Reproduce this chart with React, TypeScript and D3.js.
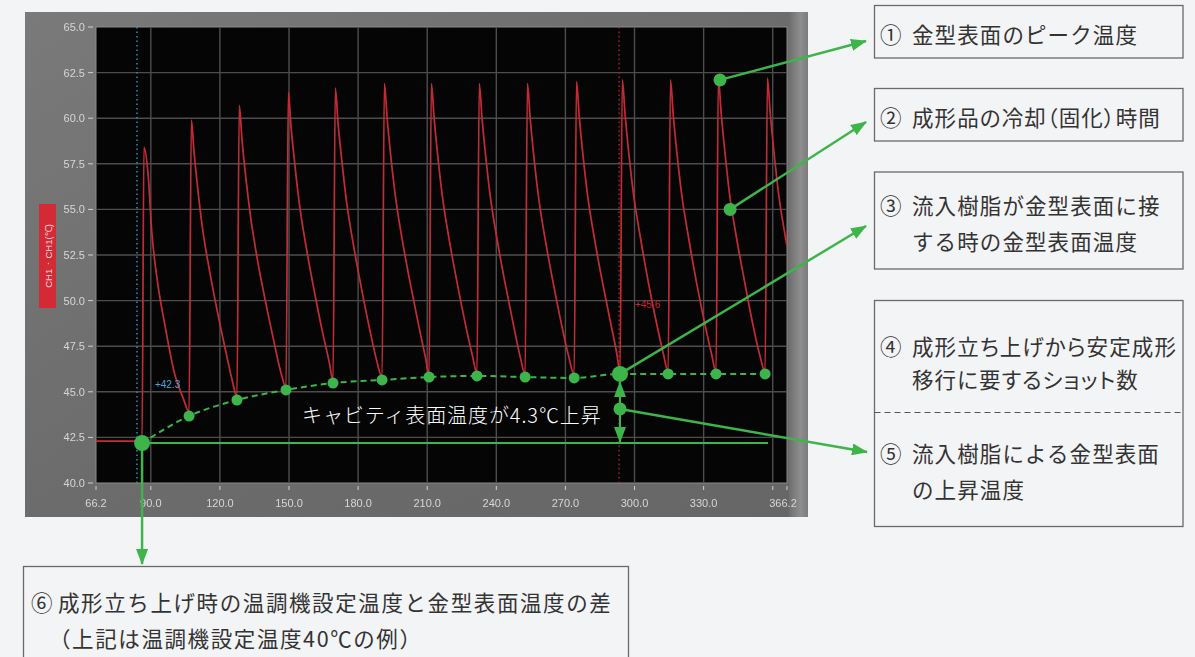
import React from "react";
import * as d3 from "d3";

// ---------- data ----------
const yTicks = [40, 42.5, 45, 47.5, 50, 52.5, 55, 57.5, 60, 62.5, 65];
const yTickLabels = ["40.0", "42.5", "45.0", "47.5", "50.0", "52.5", "55.0", "57.5", "60.0", "62.5", "65.0"];
const xDomain = [66.2, 366.2];
const xGridTicks = [90, 120, 150, 180, 210, 240, 270, 300, 330, 360];
const xTickLabels = ["90.0", "120.0", "150.0", "180.0", "210.0", "240.0", "270.0", "300.0", "330.0", ""];
const xEndLabels = ["66.2", "366.2"];

// trough (shot start) points – green markers
const shotTimes = [86.2, 106.6, 127.4, 148.7, 169.1, 190.4, 210.8, 231.6, 252.5, 273.8, 293.7, 314.6, 335.4, 356.7];
const shotBaseTemps = [42.19, 43.67, 44.55, 45.1, 45.48, 45.65, 45.81, 45.87, 45.81, 45.76, 45.98, 45.98, 45.98, 45.98];

// measured mold-surface temperature trace [time s, temp ℃]
const redTrace: [number, number][] = [
  [66.2, 42.3], [86.2, 42.3],
  [87.0, 58.4], [88.9, 56.8], [90.4, 53.8], [92.6, 51.3], [96.2, 48.6], [100.5, 45.9], [104.2, 44.6], [106.6, 43.9],
  [107.6, 59.9], [108.8, 58.1], [110.4, 56.1], [112.4, 54.0], [115.4, 51.7], [118.9, 49.4], [122.4, 47.3], [125.4, 45.6], [127.4, 44.7],
  [128.4, 60.7], [129.6, 58.8], [131.2, 56.8], [133.2, 54.7], [136.2, 52.3], [139.7, 50.0], [143.2, 47.9], [146.2, 46.2], [148.7, 45.25],
  [149.7, 61.4], [150.9, 59.5], [152.5, 57.5], [154.5, 55.3], [157.5, 52.9], [161.0, 50.5], [164.5, 48.3], [167.5, 46.6], [169.1, 45.6],
  [170.1, 61.65], [171.3, 59.7], [172.9, 57.7], [174.9, 55.5], [177.9, 53.1], [181.4, 50.7], [184.9, 48.5], [187.9, 46.8], [190.4, 45.8],
  [191.4, 61.9], [192.6, 60.0], [194.2, 57.9], [196.2, 55.7], [199.2, 53.3], [202.7, 50.9], [206.2, 48.7], [209.2, 46.9], [210.8, 45.95],
  [211.8, 61.9], [213.0, 60.0], [214.6, 57.9], [216.6, 55.7], [219.6, 53.3], [223.1, 50.9], [226.6, 48.7], [229.6, 47.0], [231.6, 46.0],
  [232.6, 61.9], [233.8, 60.0], [235.4, 57.9], [237.4, 55.7], [240.4, 53.3], [243.9, 50.9], [247.4, 48.7], [250.4, 46.9], [252.5, 45.95],
  [253.5, 61.9], [254.7, 60.0], [256.3, 57.9], [258.3, 55.7], [261.3, 53.3], [264.8, 50.9], [268.3, 48.7], [271.3, 47.0], [273.8, 45.95],
  [274.8, 62.0], [276.0, 60.1], [277.6, 58.0], [279.6, 55.8], [282.6, 53.4], [286.1, 51.0], [289.6, 48.8], [292.3, 47.1], [293.7, 46.1],
  [294.7, 62.1], [295.9, 60.2], [297.5, 58.1], [299.5, 55.9], [302.5, 53.5], [306.0, 51.0], [309.5, 48.8], [312.5, 47.1], [314.6, 46.1],
  [315.6, 62.1], [316.8, 60.2], [318.4, 58.1], [320.4, 55.9], [323.4, 53.5], [326.9, 51.0], [330.4, 48.8], [333.4, 47.1], [335.4, 46.1],
  [336.4, 62.2], [337.6, 60.3], [339.2, 58.2], [341.2, 55.9], [344.2, 53.5], [347.7, 51.1], [351.2, 48.8], [354.2, 47.1], [356.7, 46.1],
  [357.7, 62.2], [358.9, 60.3], [360.5, 58.2], [362.5, 55.9], [365.5, 53.5], [366.2, 53.0],
];

// cursors & readings
const cursorTimes = [84.0, 293.3];
const cursorLabels = ["+42.3", "+45.6"];
const cursorLabelPos: [number, number][] = [[91.8, 45.4], [300.2, 49.8]];

// annotation anchors (data coords)
const peakMarker: [number, number] = [337.1, 62.1];
const coolingMarker: [number, number] = [341.5, 55.0];
const riseIndex = 10;
const riseMidTemp = 44.06;
const riseEndTime = 358.0;
const riseText = "キャビティ表面温度が4.3℃上昇";

const box1 = ["①", "金型表面のピーク温度"];
const box2 = ["②", "成形品の冷却（固化）時間"];
const box3 = ["③", "流入樹脂が金型表面に接", "する時の金型表面温度"];
const box4 = ["④", "成形立ち上げから安定成形", "移行に要するショット数"];
const box5 = ["⑤", "流入樹脂による金型表面", "の上昇温度"];
const box6 = ["⑥", "成形立ち上げ時の温調機設定温度と金型表面温度の差", "（上記は温調機設定温度40℃の例）"];

// ---------- layout ----------
const W = 1195, H = 657;
const P = { left: 96, right: 787, top: 27, bottom: 483 };
const GREEN = "#3db54a";
const RED = "#c42c36";
const JP = "'Noto Sans CJK JP', 'Noto Sans', sans-serif";
const AX = "'Liberation Sans', Arial, sans-serif";

export default function App() {
  const x = d3.scaleLinear().domain(xDomain).range([P.left, P.right]);
  const y = d3.scaleLinear().domain([40, 65]).range([P.bottom, P.top]);

  const redLine = d3.line<[number, number]>().x(d => x(d[0])).y(d => y(d[1])).curve(d3.curveMonotoneX);
  const dots = shotTimes.map((t, i) => [t, shotBaseTemps[i]] as [number, number]);
  const greenLine = d3.line<[number, number]>().x(d => x(d[0])).y(d => y(d[1])).curve(d3.curveMonotoneX);

  const riseX = x(shotTimes[riseIndex]);
  const riseTopY = y(shotBaseTemps[riseIndex]);
  const baseY = y(shotBaseTemps[0]);
  const midY = y(riseMidTemp);

  const boxStroke = "#6a6a6a";
  const txt = "#333";
  const fs = 21.5;

  const renderBox = (
    lines: string[], bx: number, by: number, bw: number, bh: number, ys: number[],
    numX: number, bodyXs: number[], key: string, drawRect = true, ls = 1.1, palt = false
  ) => (
    <g key={key}>
      {drawRect && <rect x={bx} y={by} width={bw} height={bh} fill="#f3f4f6" stroke={boxStroke} strokeWidth={1.3} />}
      <text x={numX} y={ys[0]} fontFamily={JP} fontSize={fs} fill={txt} dominantBaseline="central">{lines[0]}</text>
      {lines.slice(1).map((l, i) => (
        <text key={i} x={bodyXs[i]} y={ys[i]} fontFamily={JP} fontSize={fs} fill={txt} dominantBaseline="central"
          letterSpacing={ls} style={palt ? { fontFeatureSettings: "'palt'" } : undefined}>{l}</text>
      ))}
    </g>
  );

  return (
    <svg width={W} height={H} style={{ position: "absolute", left: 0, top: 0 }} xmlns="http://www.w3.org/2000/svg">
      <defs>
        <linearGradient id="panelG" x1="0" y1="0" x2="1" y2="1">
          <stop offset="0" stopColor="#7a7a7a" />
          <stop offset="0.5" stopColor="#6c6c6c" />
          <stop offset="1" stopColor="#666" />
        </linearGradient>
        <linearGradient id="rightBand" x1="0" y1="0" x2="1" y2="0">
          <stop offset="0" stopColor="#6e6e6e" />
          <stop offset="0.6" stopColor="#8e8e8e" />
          <stop offset="1" stopColor="#7c7c7c" />
        </linearGradient>
        <clipPath id="plotClip">
          <rect x={P.left} y={P.top} width={P.right - P.left} height={P.bottom - P.top} />
        </clipPath>
        <marker id="arr" viewBox="0 0 16 12" refX="15" refY="6" markerWidth="16" markerHeight="12" markerUnits="userSpaceOnUse" orient="auto-start-reverse">
          <path d="M0,0 L16,6 L0,12 Z" fill={GREEN} />
        </marker>
        <filter id="soft"><feGaussianBlur stdDeviation="0.35" /></filter>
      </defs>

      <rect x={0} y={0} width={W} height={H} fill="#f3f4f6" />

      {/* instrument panel */}
      <rect x={25} y={12} width={783} height={505} fill="url(#panelG)" />
      <rect x={P.right + 2} y={12} width={808 - P.right - 2} height={505} fill="url(#rightBand)" />
      <rect x={P.left} y={P.top} width={P.right - P.left} height={P.bottom - P.top} fill="#050505" stroke="#8a8a8a" strokeWidth={1} />

      {/* grid */}
      <g stroke="#4d4d4d" strokeWidth={1.4} filter="url(#soft)">
        {yTicks.slice(1, -1).map(v => (
          <line key={"h" + v} x1={P.left} x2={P.right} y1={y(v)} y2={y(v)} />
        ))}
        {xGridTicks.map(v => (
          <line key={"v" + v} x1={x(v)} x2={x(v)} y1={P.top} y2={P.bottom} />
        ))}
      </g>

      {/* y axis */}
      <g fontFamily={AX} fontSize={11} fill="#d6d6d6" filter="url(#soft)">
        {yTicks.map((v, i) => (
          <g key={"yt" + v}>
            <line x1={P.left - 8} x2={P.left - 3} y1={y(v)} y2={y(v)} stroke="#cfcfcf" strokeWidth={1} />
            <text x={P.left - 11} y={y(v)} textAnchor="end" dominantBaseline="central">{yTickLabels[i]}</text>
          </g>
        ))}
      </g>

      {/* x axis */}
      <g fontFamily={AX} fontSize={11} fill="#d6d6d6" filter="url(#soft)">
        {xGridTicks.map((v, i) => (
          <g key={"xt" + v}>
            <line x1={x(v)} x2={x(v)} y1={P.bottom + 3} y2={P.bottom + 7} stroke="#cfcfcf" strokeWidth={1} />
            {xTickLabels[i] && <text x={x(v)} y={P.bottom + 20} textAnchor="middle" dominantBaseline="central">{xTickLabels[i]}</text>}
          </g>
        ))}
        <line x1={x(xDomain[0])} x2={x(xDomain[0])} y1={P.bottom + 3} y2={P.bottom + 7} stroke="#cfcfcf" />
        <line x1={x(xDomain[1])} x2={x(xDomain[1])} y1={P.bottom + 3} y2={P.bottom + 7} stroke="#cfcfcf" />
        <text x={x(xDomain[0])} y={P.bottom + 20} textAnchor="middle" dominantBaseline="central">{xEndLabels[0]}</text>
        <text x={x(xDomain[1]) - 4} y={P.bottom + 20} textAnchor="middle" dominantBaseline="central">{xEndLabels[1]}</text>
      </g>

      {/* channel label */}
      <g transform={`translate(47.5, 256) rotate(-90)`}>
        <rect x={-52} y={-8.5} width={104} height={17} fill="#d42a36" />
        <text x={0} y={0.5} textAnchor="middle" dominantBaseline="central" fontFamily={AX} fontSize={9.5} fill="#f4d6d8">CH1 ･ CH1(℃)</text>
      </g>

      {/* plot content */}
      <g clipPath="url(#plotClip)">
        <line x1={x(cursorTimes[0])} x2={x(cursorTimes[0])} y1={P.top} y2={P.bottom} stroke="#2f8fc0" strokeWidth={1.5} strokeDasharray="1.5,3" />
        <line x1={x(cursorTimes[1])} x2={x(cursorTimes[1])} y1={P.top} y2={P.bottom} stroke="#b0202c" strokeWidth={1.5} strokeDasharray="1.5,3" />
        <path d={redLine(redTrace) || ""} fill="none" stroke={RED} strokeWidth={1.7} strokeLinejoin="round" filter="url(#soft)" />
        <text x={x(cursorLabelPos[0][0])} y={y(cursorLabelPos[0][1])} fontFamily={AX} fontSize={10} fill="#4aa6d6" dominantBaseline="central">{cursorLabels[0]}</text>
        <text x={x(cursorLabelPos[1][0])} y={y(cursorLabelPos[1][1])} fontFamily={AX} fontSize={10} fill="#c0283a" dominantBaseline="central">{cursorLabels[1]}</text>
      </g>

      {/* green overlays */}
      <path d={greenLine(dots) || ""} fill="none" stroke={GREEN} strokeWidth={2} strokeDasharray="6,4" />
      <line x1={x(shotTimes[0])} x2={x(riseEndTime)} y1={baseY} y2={baseY} stroke={GREEN} strokeWidth={2} />
      {dots.map((d, i) => (
        <circle key={"d" + i} cx={x(d[0])} cy={y(d[1])} r={i === 0 || i === riseIndex ? 8 : 5.5} fill={GREEN} />
      ))}
      {/* rise double arrow */}
      <line x1={riseX} x2={riseX} y1={riseTopY + 8} y2={baseY - 1} stroke={GREEN} strokeWidth={2} markerStart="url(#arr)" markerEnd="url(#arr)" />
      <circle cx={riseX} cy={midY} r={6.5} fill={GREEN} />
      <text x={302} y={414} fontFamily={JP} fontSize={20} fontWeight={300} fill="#ffffff" dominantBaseline="central" letterSpacing={0.9}>{riseText}</text>

      {/* leader lines to boxes */}
      <circle cx={x(peakMarker[0])} cy={y(peakMarker[1])} r={6.5} fill={GREEN} />
      <circle cx={x(coolingMarker[0])} cy={y(coolingMarker[1])} r={6.5} fill={GREEN} />
      <line x1={x(peakMarker[0])} y1={y(peakMarker[1])} x2={866} y2={41} stroke={GREEN} strokeWidth={2.5} markerEnd="url(#arr)" />
      <line x1={x(coolingMarker[0])} y1={y(coolingMarker[1])} x2={866} y2={122} stroke={GREEN} strokeWidth={2.5} markerEnd="url(#arr)" />
      <line x1={riseX} y1={riseTopY} x2={866} y2={226} stroke={GREEN} strokeWidth={2.5} markerEnd="url(#arr)" />
      <line x1={riseX} y1={midY} x2={867} y2={452} stroke={GREEN} strokeWidth={2.5} markerEnd="url(#arr)" />
      <line x1={x(shotTimes[0])} y1={baseY} x2={x(shotTimes[0])} y2={564} stroke={GREEN} strokeWidth={2.5} markerEnd="url(#arr)" />

      {/* boxes */}
      {renderBox([box1[0], box1[1]], 874.5, 5.5, 308.5, 52.5, [33], 880, [912], "b1")}
      {renderBox([box2[0], box2[1]], 874.5, 88.5, 308.5, 52.5, [116.5], 880, [912], "b2", true, 1.1, true)}
      {renderBox([box3[0], box3[1], box3[2]], 874.5, 172, 308.5, 97, [204, 240], 880, [912, 912], "b3")}
      <rect x={874.5} y={300.5} width={308.5} height={226} fill="#f3f4f6" stroke={boxStroke} strokeWidth={1.3} />
      <line x1={874.5} x2={1183} y1={412.5} y2={412.5} stroke="#555" strokeWidth={1.2} strokeDasharray="6,4" />
      {renderBox([box4[0], box4[1], box4[2]], 0, 0, 0, 0, [345, 378], 880, [912, 912], "b4", false, 1.1, true)}
      {renderBox([box5[0], box5[1], box5[2]], 0, 0, 0, 0, [452, 488], 880, [912, 912], "b5", false)}
      {renderBox([box6[0], box6[1], box6[2]], 23.5, 566.5, 605, 100, [601, 637], 31, [58, 49], "b6", true, 1.6)}
    </svg>
  );
}
